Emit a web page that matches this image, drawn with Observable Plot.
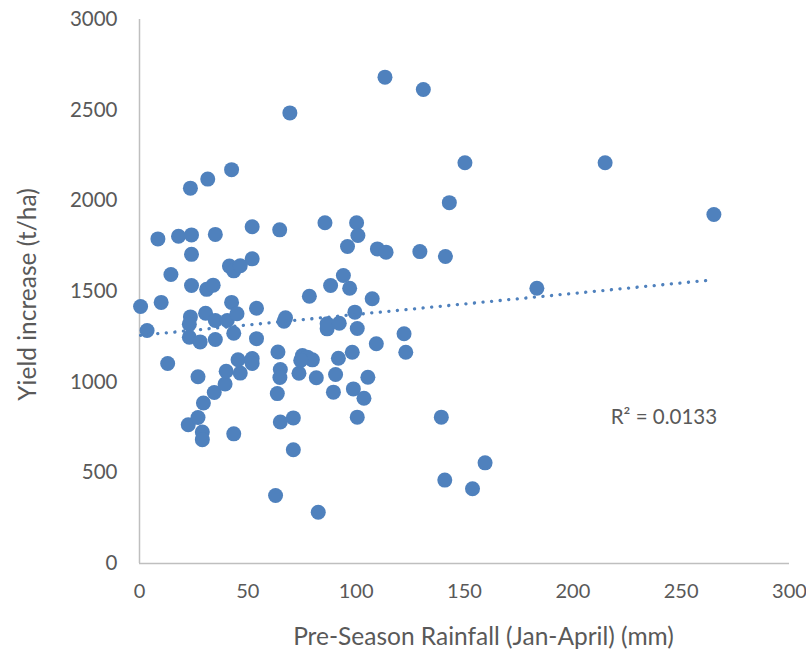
<!DOCTYPE html>
<html>
<head>
<meta charset="utf-8">
<script src="https://cdn.jsdelivr.net/npm/d3@7"></script>
<script src="https://cdn.jsdelivr.net/npm/@observablehq/plot@0.6"></script>
<style>
  html, body { margin: 0; padding: 0; background: #ffffff; }
  #chart { width: 806px; height: 658px; }
</style>
</head>
<body>
<div id="chart"></div>
<script>
// Pre-season rainfall (mm)
const rainfall = [
  0.5, 3.5, 8.5, 10, 13, 14.5, 18, 23.5, 24, 24,
  24, 23.5, 23, 23, 22.5, 27, 27, 28, 29, 29,
  29.5, 30.5, 31, 31.5, 34, 34.5, 35, 35, 35, 39.5,
  40, 40.5, 41.5, 42.5, 43.5, 42.5, 43.5, 43.5, 45, 45.5,
  46.5, 46.5, 52, 52, 52, 52, 54, 54, 62.8, 63.9,
  63.6, 64.7, 65, 64.8, 65, 66.7, 67.4, 69.4, 71, 71,
  73.6, 75.2, 77.5, 79.8, 78.4, 74.4, 81.6, 82.5, 85.6, 86.6,
  86.6, 88.2, 89.5, 90.5, 91.8, 92.2, 94.1, 96, 97, 98.2,
  98.7, 99.4, 100.2, 100.5, 100.8, 100.5, 103.6, 105.4, 107.4, 109.3,
  109.8, 113.3, 113.8, 122.1, 122.9, 129.4, 131, 139.3, 140.9, 141.2,
  143, 150.2, 153.7, 159.5, 183.4, 214.9, 265.1
];
// Yield increase (t/ha)
const yieldIncrease = [
  1417, 1285, 1790, 1440, 1103, 1594, 1805, 2070, 1812, 1705,
  1533, 1360, 1320, 1248, 765, 1030, 805, 1222, 725, 683,
  885, 1380, 1512, 2120, 1535, 943, 1340, 1815, 1235, 990,
  1060, 1340, 1640, 2172, 1614, 1440, 715, 1270, 1377, 1124,
  1642, 1050, 1130, 1103, 1857, 1680, 1240, 1408, 375, 1166,
  937, 1840, 1070, 1026, 780, 1336, 1355, 2485, 803, 627,
  1049, 1147, 1138, 1123, 1474, 1120, 1024, 283, 1879, 1294,
  1322, 1533, 945, 1042, 1132, 1325, 1588, 1748, 1518, 1165,
  963, 1386, 1879, 1296, 1809, 807, 911, 1027, 1460, 1212,
  1735, 2682, 1717, 1267, 1165, 1720, 2614, 807, 460, 1693,
  1990, 2210, 412, 555, 1518, 2210, 1925
];
const xTicks = [0, 50, 100, 150, 200, 250, 300];
const yTicks = [0, 500, 1000, 1500, 2000, 2500, 3000];
const xTitle = "Pre-Season Rainfall (Jan-April) (mm)";
const yTitle = "Yield increase (t/ha)";
const r2Label = ["R² = 0.0133"];
const r2Pos = { x: 217.5, y: 805 };

const data = rainfall.map((x, i) => ({ x, y: yieldIncrease[i] }));
const blue = "#4f81bd";
const grey = "#595959";

const chart = Plot.plot({
  width: 806,
  height: 658,
  marginLeft: 139,
  marginRight: 17,
  marginTop: 19,
  marginBottom: 95,
  style: { fontFamily: "Lato, 'Open Sans', sans-serif", fontSize: "20px", color: grey, background: "#ffffff", overflow: "visible" },
  x: { domain: [0, 300] },
  y: { domain: [0, 3000] },
  marks: [
    Plot.axisX({ ticks: xTicks, tickFormat: d3.format("d"), tickSize: 0, tickPadding: 20, label: null, fill: grey, fontSize: 20 }),
    Plot.axisY({ ticks: yTicks, tickFormat: d3.format("d"), tickSize: 0, tickPadding: 22, label: null, fill: grey, fontSize: 20.5 }),
    Plot.ruleX([0], { stroke: "#bfbfbf", strokeWidth: 1.5 }),
    Plot.ruleY([0], { stroke: "#bfbfbf", strokeWidth: 1.5 }),
    Plot.dot(data, { x: "x", y: "y", r: 7.5, fill: blue, stroke: "none" }),
    Plot.linearRegressionY(data, { x: "x", y: "y", ci: 0, stroke: blue, strokeWidth: 3.3, strokeDasharray: "0.1 8.5", strokeLinecap: "round" }),
    Plot.text(r2Label, { x: () => r2Pos.x, y: () => r2Pos.y, text: d => d, textAnchor: "start", fontSize: 20.5, fill: grey }),
    Plot.text([xTitle], { frameAnchor: "bottom", dx: 19, dy: 81, textAnchor: "middle", text: d => d, fontSize: 24.5, fill: grey }),
    Plot.text([yTitle], { frameAnchor: "left", dx: -111, dy: 3, rotate: -90, textAnchor: "middle", text: d => d, fontSize: 24.5, fill: grey })
  ]
});
document.getElementById("chart").appendChild(chart);
</script>
</body>
</html>
